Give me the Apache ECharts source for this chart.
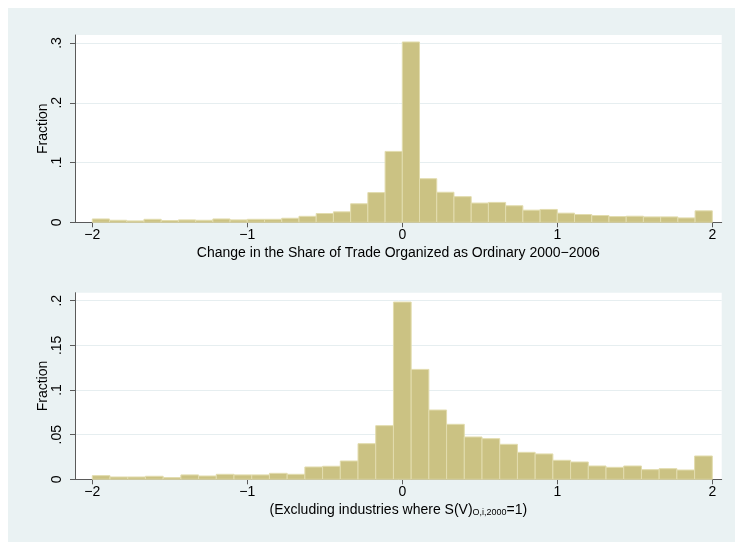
<!DOCTYPE html>
<html>
<head>
<meta charset="utf-8">
<script src="https://cdn.jsdelivr.net/npm/echarts@6/dist/echarts.min.js"></script>
<style>
  html, body { margin: 0; padding: 0; background: #fff; }
  #chart { width: 735px; height: 542px; }
</style>
</head>
<body>
<div id="chart"></div>
<script>
// histogram bins: equal width bins from -2 to 2
const binMin = -2
const binMax = 2

// top panel: 36 bins
const topFractions = [
    0.0056, 0.0034, 0.0023, 0.0050, 0.0030, 0.0040, 0.0034, 0.0056, 0.0040,
    0.0050, 0.0050, 0.0068, 0.0100, 0.0147, 0.0175, 0.0310, 0.0497, 0.1186,
    0.3017, 0.0729, 0.0503, 0.0429, 0.0322, 0.0333, 0.0277, 0.0203, 0.0215,
    0.0153, 0.0130, 0.0113, 0.0096, 0.0102, 0.0090, 0.0090, 0.0073, 0.0192,
]

// bottom panel: 35 bins
const bottomFractions = [
    0.0041, 0.0026, 0.0026, 0.0034, 0.0019, 0.0049, 0.0037, 0.0056, 0.0049,
    0.0049, 0.0067, 0.0056, 0.0138, 0.0146, 0.0205, 0.0399, 0.0601, 0.1985,
    0.1231, 0.0776, 0.0616, 0.0474, 0.0455, 0.0392, 0.0302, 0.0284, 0.0213,
    0.0194, 0.0149, 0.0134, 0.0149, 0.0108, 0.0119, 0.0104, 0.0261,
]

const xTicks = [-2, -1, 0, 1, 2]
const topYTicks = [0, 0.1, 0.2, 0.3]
const bottomYTicks = [0, 0.05, 0.1, 0.15, 0.2]

const topTitle = 'Change in the Share of Trade Organized as Ordinary 2000\u22122006'
const bottomTitle = '(Excluding industries where S(V){sub|O,i,2000}=1)'

const FONT = '"Liberation Sans", Arial, Helvetica, sans-serif'
const FS = 14
const BAR = '#cbc283'
const BAR_EDGE = '#e2dcae'
const GRID_LINE = '#e6eef0'
const AXIS = '#5a5a5a'

// turn fractions into [start, end, value]
function toBins(values) {
    const w = (binMax - binMin) / values.length
    return values.map((v, i) => [binMin + i * w, binMin + (i + 1) * w, v])
}

// stata style labels: .1 instead of 0.1, real minus sign
function fmtY(v) {
    if (v === 0) return '0'
    return String(+v.toFixed(3)).replace(/^0\./, '.')
}
function fmtX(v) {
    return String(v).replace('-', '\u2212')
}

function renderBar(params, api) {
    const p0 = api.coord([api.value(0), api.value(2)])
    const p1 = api.coord([api.value(1), 0])
    return {
        type: 'rect',
        shape: { x: p0[0], y: p0[1], width: p1[0] - p0[0], height: p1[1] - p0[1] },
        style: { fill: BAR, stroke: BAR_EDGE, lineWidth: 1 },
    }
}

function xAxisOf(gridIndex, name) {
    return {
        type: 'value',
        gridIndex,
        min: -2.1116,
        max: 2.0606,
        name,
        nameLocation: 'middle',
        nameGap: 24,
        nameTextStyle: {
            color: '#000',
            fontFamily: FONT,
            fontSize: FS,
            rich: {
                sub: { fontSize: 9, fontFamily: FONT, color: '#000', verticalAlign: 'bottom', padding: [5, 0, 0, 0] },
            },
        },
        axisLine: { show: true, onZero: false, lineStyle: { color: AXIS, width: 1 } },
        axisTick: { show: true, length: 5, lineStyle: { color: AXIS }, customValues: xTicks },
        axisLabel: { customValues: xTicks, formatter: fmtX, color: '#000', fontFamily: FONT, fontSize: FS, margin: 6 },
        splitLine: { show: false },
    }
}

function yAxisOf(gridIndex, max, ticks) {
    return {
        type: 'value',
        gridIndex,
        min: 0,
        max,
        name: 'Fraction',
        nameLocation: 'middle',
        nameRotate: 90,
        nameGap: 25,
        nameMoveOverlap: false,
        nameTextStyle: { color: '#000', fontFamily: FONT, fontSize: FS },
        axisLine: { show: true, onZero: false, lineStyle: { color: AXIS, width: 1 } },
        axisTick: { show: true, length: 5, lineStyle: { color: AXIS }, customValues: ticks },
        axisLabel: { customValues: ticks, formatter: fmtY, rotate: 90, color: '#000', fontFamily: FONT, fontSize: FS, margin: 11 },
        splitLine: { show: true, lineStyle: { color: GRID_LINE, width: 1 } },
    }
}

const myChart = echarts.init(document.getElementById('chart'), null, { renderer: 'canvas' })

myChart.setOption({
    animation: false,
    backgroundColor: '#fff',
    graphic: [
        // stata graph region
        { type: 'rect', z: -10, shape: { x: 8, y: 8, width: 727, height: 534 }, style: { fill: '#eaf2f3' } },
    ],
    grid: [
        { left: 75, right: 13.3, top: 35, bottom: 319.7, show: true, backgroundColor: '#fff', borderWidth: 0 },
        { left: 75, right: 13.3, top: 292.7, bottom: 62.7, show: true, backgroundColor: '#fff', borderWidth: 0 },
    ],
    xAxis: [xAxisOf(0, topTitle), xAxisOf(1, bottomTitle)],
    yAxis: [yAxisOf(0, 0.3134, topYTicks), yAxisOf(1, 0.209, bottomYTicks)],
    series: [
        {
            type: 'custom',
            xAxisIndex: 0,
            yAxisIndex: 0,
            renderItem: renderBar,
            encode: { x: [0, 1], y: 2 },
            data: toBins(topFractions),
        },
        {
            type: 'custom',
            xAxisIndex: 1,
            yAxisIndex: 1,
            renderItem: renderBar,
            encode: { x: [0, 1], y: 2 },
            data: toBins(bottomFractions),
        },
    ],
})
</script>
</body>
</html>
